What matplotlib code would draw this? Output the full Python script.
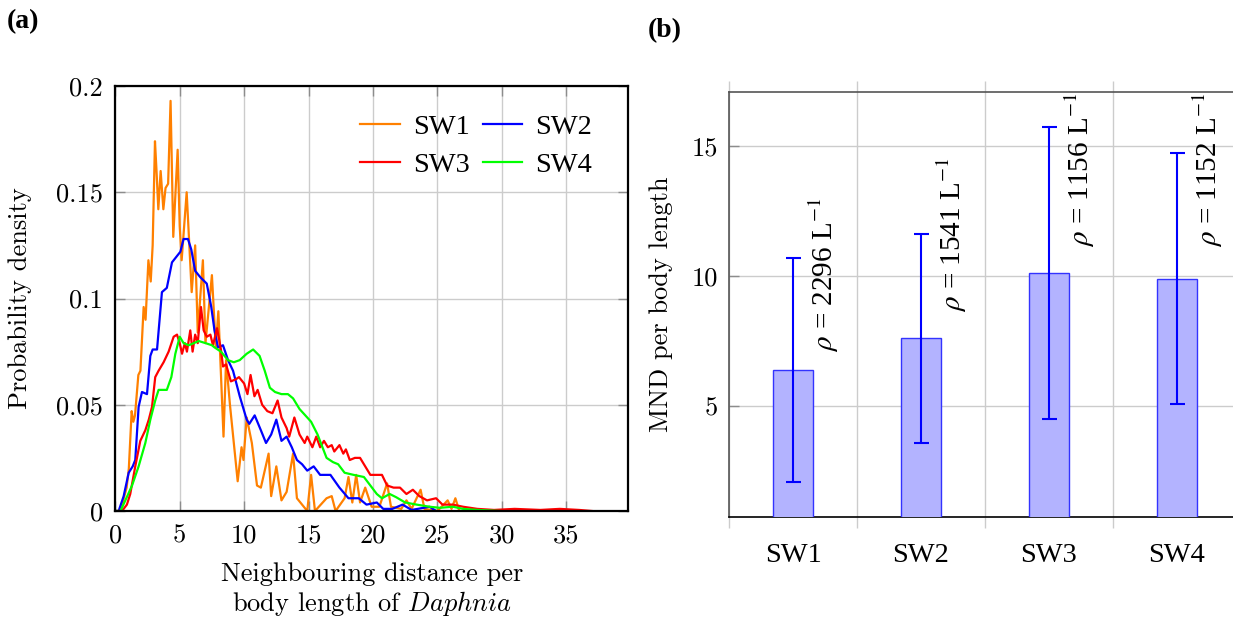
import numpy as np
import matplotlib
matplotlib.use("Agg")
import matplotlib.pyplot as plt
from matplotlib.ticker import FixedLocator

plt.rcParams["font.family"] = ["cmr10", "DejaVu Serif"]
plt.rcParams["mathtext.fontset"] = "cm"
plt.rcParams["axes.unicode_minus"] = False

# ---- panel (a): probability density of neighbouring distance ----
sw1_x = [0, 0.4, 0.88, 1.05, 1.27, 1.4, 1.53, 1.79, 1.95, 2.2, 2.35, 2.57, 2.75, 2.9, 3.08,
         3.2, 3.34, 3.52, 3.73, 3.9, 4.1, 4.29, 4.5, 4.84, 5.0, 5.15, 5.54, 5.93, 6.2, 6.4,
         6.8, 7.0, 7.5, 7.8, 8.0, 8.4, 8.6, 8.9, 9.5, 9.8, 9.95, 10.2, 10.6, 11.0, 11.3,
         11.9, 12.1, 12.5, 12.9, 13.3, 13.8, 14.1, 14.9, 15.2, 15.5, 16.4, 16.8, 17.1,
         17.8, 18.1, 18.4, 18.7, 19.0, 19.4, 19.9, 20.5, 21.1, 21.4, 22.2, 22.6, 23.0,
         23.7, 24.0, 25.0, 25.8, 26.1, 26.4, 26.7, 30]
sw1_y = [0, 0, 0.011, 0.02, 0.047, 0.042, 0.045, 0.064, 0.066, 0.096, 0.090, 0.118, 0.108,
         0.125, 0.174, 0.160, 0.142, 0.160, 0.142, 0.152, 0.154, 0.193, 0.129, 0.170, 0.134,
         0.118, 0.150, 0.103, 0.125, 0.084, 0.118, 0.079, 0.111, 0.077, 0.094, 0.035, 0.071,
         0.050, 0.014, 0.030, 0.024, 0.044, 0.032, 0.012, 0.011, 0.027, 0.007, 0.021, 0.005,
         0.009, 0.027, 0.006, 0, 0.017, 0, 0.006, 0.007, 0, 0.006, 0.016, 0.004, 0.017,
         0.004, 0.011, 0.002, 0.002, 0.013, 0.002, 0.001, 0.005, 0.001, 0.010, 0.001, 0,
         0.005, 0.001, 0.006, 0, 0]

sw2_x = [0, 0.26, 0.65, 1.04, 1.35, 1.55, 1.81, 2.07, 2.46, 2.72, 2.9, 3.24, 3.62, 4.0, 4.4,
         4.79, 5.05, 5.3, 5.64, 5.9, 6.2, 6.6, 7.1, 7.45, 7.7, 7.97, 8.36, 8.75, 9.14, 9.66,
         10.2, 10.4, 10.82, 11.3, 11.7, 12.1, 12.5, 12.9, 13.3, 13.7, 14.1, 14.5, 14.9, 15.4,
         15.9, 16.7, 17.4, 18.1, 18.9, 19.5, 20.3, 20.8, 21.5, 22.3, 23.0, 24.4, 24.9]
sw2_y = [0, 0, 0.007, 0.018, 0.021, 0.024, 0.049, 0.056, 0.055, 0.073, 0.076, 0.076, 0.103,
         0.105, 0.117, 0.120, 0.122, 0.128, 0.128, 0.123, 0.113, 0.110, 0.107, 0.096, 0.085,
         0.077, 0.078, 0.071, 0.066, 0.054, 0.043, 0.041, 0.045, 0.038, 0.032, 0.036, 0.043,
         0.033, 0.035, 0.030, 0.024, 0.022, 0.019, 0.021, 0.017, 0.017, 0.011, 0.006, 0.006,
         0.003, 0.004, 0.001, 0.001, 0.003, 0.0005, 0.002, 0]

sw3_x = [0, 0.52, 0.9, 1.16, 1.55, 1.94, 2.33, 2.6, 2.85, 3.1, 3.36, 3.75, 4.14, 4.53, 4.79,
         5.0, 5.18, 5.4, 5.56, 5.82, 6.0, 6.2, 6.4, 6.65, 6.86, 7.1, 7.38, 7.58, 7.9, 8.2,
         8.36, 8.6, 8.97, 9.36, 9.6, 10.0, 10.26, 10.5, 10.8, 11.05, 11.4, 11.8, 12.2, 12.6,
         12.9, 13.3, 13.5, 13.9, 14.3, 14.7, 14.9, 15.3, 15.6, 15.9, 16.2, 16.5, 16.8, 17.0,
         17.4, 17.7, 17.9, 18.2, 18.6, 19.0, 19.4, 19.8, 20.2, 20.7, 21.1, 21.6, 22.1, 22.6,
         23.1, 23.6, 24.2, 24.9, 25.4, 26.2, 27.0, 28.1, 29.4, 31, 33, 34.5, 36, 37]
sw3_y = [0, 0, 0.003, 0.008, 0.021, 0.033, 0.038, 0.043, 0.049, 0.063, 0.066, 0.070, 0.075,
         0.082, 0.083, 0.079, 0.074, 0.079, 0.075, 0.085, 0.075, 0.083, 0.079, 0.096, 0.085,
         0.082, 0.083, 0.078, 0.086, 0.076, 0.068, 0.069, 0.061, 0.062, 0.063, 0.060, 0.055,
         0.064, 0.054, 0.057, 0.050, 0.047, 0.046, 0.052, 0.044, 0.039, 0.035, 0.044, 0.036,
         0.032, 0.035, 0.030, 0.035, 0.030, 0.033, 0.030, 0.031, 0.028, 0.031, 0.027, 0.029,
         0.024, 0.025, 0.025, 0.021, 0.017, 0.017, 0.017, 0.012, 0.011, 0.011, 0.008, 0.010,
         0.007, 0.005, 0.006, 0.003, 0.003, 0.002, 0.001, 0.0005, 0.001, 0.0005, 0.001,
         0.0005, 0]

sw4_x = [0, 0.4, 0.78, 1.3, 1.81, 2.33, 2.72, 3.1, 3.36, 3.62, 4.0, 4.35, 4.66, 5.0, 5.3,
         5.7, 6.1, 6.47, 7.0, 7.5, 7.7, 8.2, 8.75, 9.2, 9.66, 10.2, 10.7, 11.2, 11.6, 12.0,
         12.4, 12.9, 13.4, 13.8, 14.3, 14.9, 15.2, 15.7, 16.4, 16.9, 17.3, 17.8, 18.5, 19.3,
         19.8, 20.3, 20.7, 21.3, 21.8, 22.5, 23.4, 24.4, 25.2, 26.2, 27.0, 28.1, 29.9]
sw4_y = [0, 0, 0.005, 0.012, 0.021, 0.032, 0.043, 0.052, 0.057, 0.057, 0.057, 0.063, 0.074,
         0.082, 0.079, 0.078, 0.079, 0.080, 0.079, 0.078, 0.077, 0.075, 0.071, 0.070, 0.071,
         0.074, 0.076, 0.073, 0.066, 0.058, 0.056, 0.055, 0.055, 0.053, 0.048, 0.044, 0.042,
         0.036, 0.025, 0.023, 0.022, 0.018, 0.017, 0.016, 0.012, 0.008, 0.006, 0.008, 0.0065,
         0.004, 0.003, 0.002, 0.0015, 0.002, 0.001, 0.0005, 0]

series = [("SW1", sw1_x, sw1_y, (1.0, 0.5, 0.0)),
          ("SW2", sw2_x, sw2_y, (0.0, 0.0, 1.0)),
          ("SW3", sw3_x, sw3_y, (1.0, 0.0, 0.0)),
          ("SW4", sw4_x, sw4_y, (0.0, 1.0, 0.0))]

# ---- panel (b): mean neighbour distance ----
sites = ["SW1", "SW2", "SW3", "SW4"]
mnd_mean = [6.4, 7.6, 10.1, 9.9]
mnd_std = [4.3, 4.0, 5.6, 4.8]
density = [2296, 1541, 1156, 1152]
label_y = [7.1, 8.6, 11.1, 11.1]

W, H = 1233, 621
fig = plt.figure(figsize=(W / 100, H / 100), dpi=100)

serif = ["Liberation Serif", "DejaVu Serif"]
fs = 19
fs_serif = 20.5
grid_c = "#cccccc"
tick_c = "#8c8c8c"

# left
ax = fig.add_axes([115.3 / W, 1 - 511 / H, 512.7 / W, 425 / H])
lines = {}
for name, x, y, c in series:
    lines[name], = ax.plot(x, y, color=c, lw=1.6, label=name)
ax.set_xlim(0, 39.8)
ax.set_ylim(0, 0.2)
ax.xaxis.set_major_locator(FixedLocator([0, 5, 10, 15, 20, 25, 30, 35]))
ax.set_xticklabels(["0", "5", "10", "15", "20", "25", "30", "35"])
ax.yaxis.set_major_locator(FixedLocator([0, 0.05, 0.1, 0.15, 0.2]))
ax.set_yticklabels(["0", "0.05", "0.1", "0.15", "0.2"])
ax.grid(True, color=grid_c, lw=1.0)
ax.tick_params(direction="in", length=7, width=1, color=tick_c, labelsize=fs, pad=9,
               top=True, right=True)
for s in ax.spines.values():
    s.set_linewidth(1.6)
    s.set_zorder(5)
ax.set_ylabel("Probability density", fontsize=fs, va="center")
ax.yaxis.set_label_coords(-0.186, 0.5)
ax.set_xlabel("Neighbouring distance per\nbody length of $\\mathit{Daphnia}$",
              fontsize=fs, va="center", linespacing=1.15)
ax.xaxis.set_label_coords(0.5, -0.186)
order = ["SW1", "SW3", "SW2", "SW4"]  # row-wise: SW1 SW2 / SW3 SW4
ax.legend([lines[n] for n in order], order, ncol=2, loc="upper right",
          bbox_to_anchor=(0.93, 0.935), frameon=False, borderpad=0, borderaxespad=0,
          handlelength=1.4, handletextpad=0.45, columnspacing=0.45, labelspacing=0.45,
          prop={"family": serif, "size": fs_serif})

# right
bx = fig.add_axes([729 / W, 1 - 517 / H, 512 / W, 425.3 / H])
pos = np.arange(len(sites))
bx.bar(pos, mnd_mean, width=0.305, color=(0.7, 0.7, 1.0), edgecolor=(0.2, 0.2, 1.0),
       lw=1.0, zorder=3)
bx.errorbar(pos, mnd_mean, yerr=mnd_std, fmt="none", ecolor=(0, 0, 1), elinewidth=1.5,
            capsize=5.4, capthick=1.5, zorder=4)
for i in range(len(sites)):
    bx.text(pos[i] + 0.105, label_y[i], "$\\rho$ = %d L$^{-1}$" % density[i],
            rotation=90, ha="left", va="bottom", fontsize=21, family=serif,
            math_fontfamily="stix", zorder=6)
bx.set_xlim(-0.5, 3.5)
bx.set_ylim(0.75, 17.07)
bx.set_xticks(pos)
bx.set_xticklabels(sites, family=serif, fontsize=fs_serif)
bx.set_xticks(pos - 0.5, minor=True)
bx.set_yticks([5, 10, 15])
bx.set_yticklabels(["5", "10", "15"])
bx.tick_params(axis="x", which="major", length=0, pad=19)
bx.tick_params(axis="x", which="minor", direction="out", length=8, width=1, color=grid_c,
               top=True, bottom=True)
bx.tick_params(axis="y", direction="in", length=7, width=1, color=tick_c, labelsize=fs, pad=8)
bx.grid(True, axis="x", which="minor", color=grid_c, lw=1.0)
bx.grid(True, axis="y", which="major", color=grid_c, lw=1.0)
bx.set_axisbelow(True)
bx.spines["left"].set_color("#555555")
bx.spines["top"].set_color("#555555")
bx.spines["bottom"].set_color("black")
for s in bx.spines.values():
    s.set_linewidth(1.2)
bx.set_ylabel("MND per body length", fontsize=fs, va="center")
bx.yaxis.set_label_coords(-0.133, 0.5)

fig.text(7 / W, 1 - 22 / H, "(a)", fontsize=20, fontweight="bold", family=serif,
         ha="left", va="center")
fig.text(648 / W, 1 - 31 / H, "(b)", fontsize=20, fontweight="bold", family=serif,
         ha="left", va="center")

fig.savefig("out.png", dpi=100)
